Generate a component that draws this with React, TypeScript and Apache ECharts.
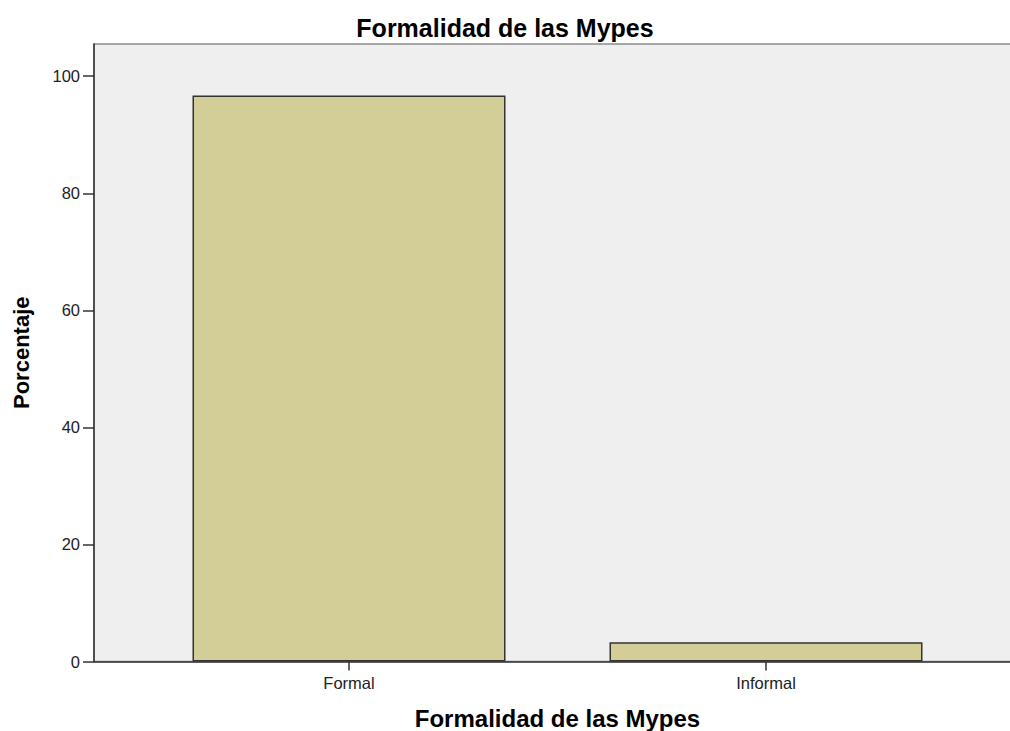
import React, { useEffect, useRef } from "react";
import * as echarts from "echarts";

const categories = ["Formal", "Informal"];
const percentages = [96.7, 3.3];
const yTicks = [0, 20, 40, 60, 80, 100];
const titleText = "Formalidad de las Mypes";
const xAxisTitle = "Formalidad de las Mypes";
const yAxisTitle = "Porcentaje";

const FONT = "'Liberation Sans', Arial, sans-serif";
const Y_MAX = 105.5;

export default function App() {
  const ref = useRef<HTMLDivElement>(null);
  useEffect(() => {
    if (!ref.current) return;
    const chart = echarts.init(ref.current, undefined, { renderer: "svg" });
    const top = 44;
    const bottom = 69.5;
    chart.setOption({
      animation: false,
      backgroundColor: "#ffffff",
      title: {
        text: titleText,
        left: "center",
        top: 10,
        textStyle: { fontFamily: FONT, fontSize: 25, fontWeight: "bold", color: "#000" },
      },
      grid: [
        {
          left: 94,
          top,
          bottom,
          right: -20,
          containLabel: false,
          outerBoundsMode: "none",
          show: true,
          backgroundColor: "#efefef",
          borderColor: "#8c8c8c",
          borderWidth: 1.5,
        },
        {
          left: 140.5,
          top,
          bottom,
          right: 35.5,
          containLabel: false,
          outerBoundsMode: "none",
        },
      ],
      xAxis: [
        {
          type: "value",
          gridIndex: 0,
          min: 0,
          max: 1,
          axisLine: { show: true, onZero: false, lineStyle: { color: "#333", width: 1.5 } },
          axisTick: { show: false },
          axisLabel: { show: false },
          splitLine: { show: false },
        },
        {
          type: "category",
          gridIndex: 1,
          data: categories,
          axisLine: { show: false },
          axisTick: { show: true, alignWithLabel: true, length: 9, lineStyle: { color: "#333", width: 1.5 } },
          axisLabel: { fontFamily: FONT, fontSize: 16.5, color: "#222", margin: 13 },
          name: xAxisTitle,
          nameLocation: "middle",
          nameGap: 45,
          nameTextStyle: { fontFamily: FONT, fontSize: 24, fontWeight: "bold", color: "#000" },
        },
      ],
      yAxis: [
        {
          type: "value",
          gridIndex: 0,
          min: 0,
          max: Y_MAX,
          interval: 20,
          axisLine: { show: true, lineStyle: { color: "#333", width: 1.5 } },
          axisTick: { show: true, length: 11, lineStyle: { color: "#333", width: 1.5 } },
          axisLabel: {
            fontFamily: FONT,
            fontSize: 16.5,
            color: "#222",
            margin: 14,
            showMaxLabel: false,
            formatter: (v: number) => (yTicks.includes(v) ? String(v) : ""),
          },
          splitLine: { show: false },
          name: yAxisTitle,
          nameLocation: "middle",
          nameGap: 62,
          nameRotate: 90,
          nameTextStyle: { fontFamily: FONT, fontSize: 22, fontWeight: "bold", color: "#000" },
        },
        {
          type: "value",
          gridIndex: 1,
          min: 0,
          max: Y_MAX,
          show: false,
        },
      ],
      series: [
        {
          type: "bar",
          xAxisIndex: 1,
          yAxisIndex: 1,
          data: percentages,
          barWidth: 313,
          itemStyle: { color: "#d3ce97", borderColor: "#333", borderWidth: 1.5 },
        },
      ],
    });
    return () => chart.dispose();
  }, []);
  return (
    <div
      ref={ref}
      style={{ position: "fixed", left: 0, top: 0, width: 1010, height: 731 }}
    />
  );
}
